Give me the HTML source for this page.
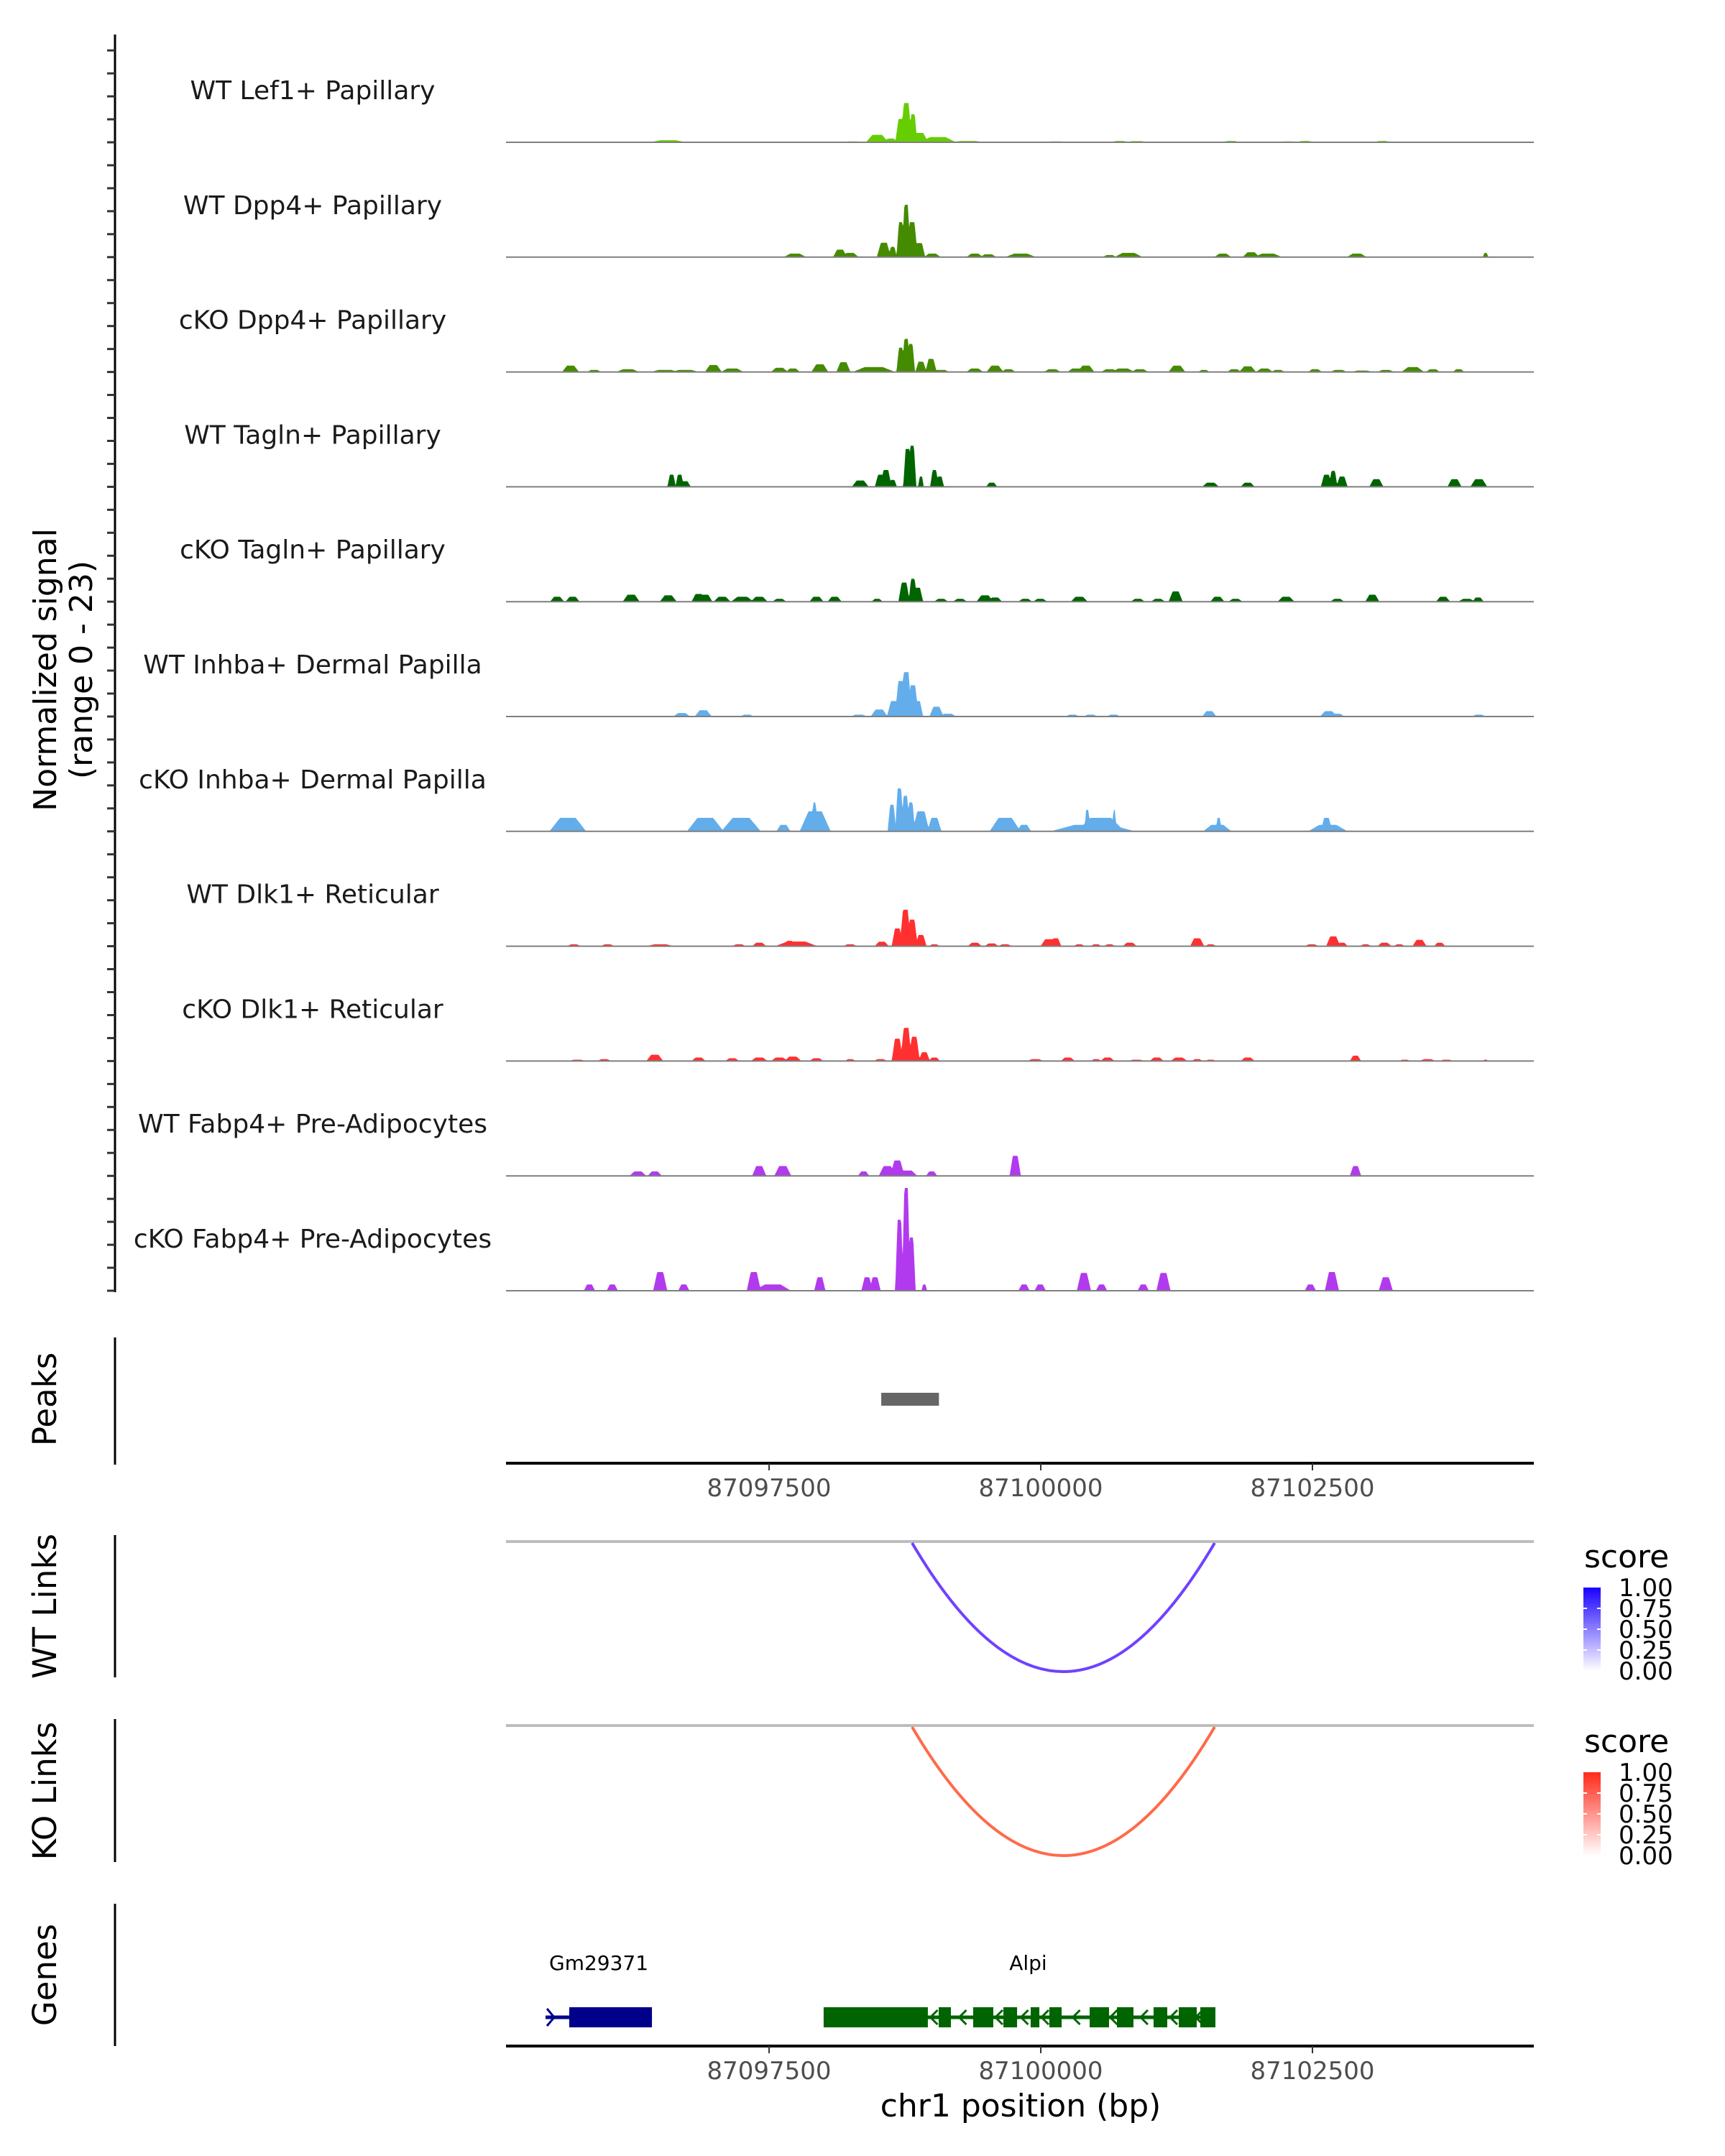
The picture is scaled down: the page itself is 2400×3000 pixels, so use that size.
<!DOCTYPE html>
<html><head><meta charset="utf-8"><style>
html,body{margin:0;padding:0;background:#fff}
svg{display:block;font-family:"DejaVu Sans","Liberation Sans",sans-serif}
</style></head><body>
<svg id="chart" width="2400" height="3000" viewBox="0 0 2400 3000" xmlns="http://www.w3.org/2000/svg">
<rect x="0" y="0" width="2400" height="3000" fill="#fff"/>
<g id="tracks"></g>
<g id="yaxis"></g>
<text transform="translate(78,932) rotate(-90)" text-anchor="middle" font-size="44">Normalized signal</text>
<text transform="translate(128,932) rotate(-90)" text-anchor="middle" font-size="44">(range 0 - 23)</text>

<line x1="160" y1="1861" x2="160" y2="2038" stroke="#000" stroke-width="3"/>
<text transform="translate(78,1947) rotate(-90)" text-anchor="middle" font-size="45">Peaks</text>
<g id="peaks"></g>
<g id="xaxis1"></g>

<line x1="160" y1="2136" x2="160" y2="2334" stroke="#000" stroke-width="3"/>
<text transform="translate(78,2235) rotate(-90)" text-anchor="middle" font-size="45">WT Links</text>
<line x1="704" y1="2145" x2="2134" y2="2145" stroke="#bebebe" stroke-width="4"/>
<g id="wtlinks"></g>

<line x1="160" y1="2392" x2="160" y2="2591" stroke="#000" stroke-width="3"/>
<text transform="translate(78,2492) rotate(-90)" text-anchor="middle" font-size="45">KO Links</text>
<line x1="704" y1="2401" x2="2134" y2="2401" stroke="#bebebe" stroke-width="4"/>
<g id="kolinks"></g>

<defs>
<linearGradient id="gBlue" x1="0" y1="1" x2="0" y2="0"><stop offset="0" stop-color="#ffffff"/><stop offset="1" stop-color="#1a00ff"/></linearGradient>
<linearGradient id="gRed" x1="0" y1="1" x2="0" y2="0"><stop offset="0" stop-color="#ffffff"/><stop offset="1" stop-color="#ff2a1a"/></linearGradient>
</defs>
<g>
<text x="2204" y="2181" font-size="44">score</text>
<rect x="2203" y="2209" width="24" height="116" fill="url(#gBlue)"/>
<g font-size="34" fill="#000">
<text x="2252" y="2221">1.00</text><text x="2252" y="2250">0.75</text><text x="2252" y="2279">0.50</text><text x="2252" y="2308">0.25</text><text x="2252" y="2337">0.00</text>
</g>
<g stroke="#fff" stroke-width="2"><line x1="2203" y1="2238" x2="2208" y2="2238"/><line x1="2222" y1="2238" x2="2227" y2="2238"/><line x1="2203" y1="2267" x2="2208" y2="2267"/><line x1="2222" y1="2267" x2="2227" y2="2267"/><line x1="2203" y1="2296" x2="2208" y2="2296"/><line x1="2222" y1="2296" x2="2227" y2="2296"/></g>
</g>
<g>
<text x="2204" y="2438" font-size="44">score</text>
<rect x="2203" y="2466" width="24" height="116" fill="url(#gRed)"/>
<g font-size="34" fill="#000">
<text x="2252" y="2478">1.00</text><text x="2252" y="2507">0.75</text><text x="2252" y="2536">0.50</text><text x="2252" y="2565">0.25</text><text x="2252" y="2594">0.00</text>
</g>
<g stroke="#fff" stroke-width="2"><line x1="2203" y1="2495" x2="2208" y2="2495"/><line x1="2222" y1="2495" x2="2227" y2="2495"/><line x1="2203" y1="2524" x2="2208" y2="2524"/><line x1="2222" y1="2524" x2="2227" y2="2524"/><line x1="2203" y1="2553" x2="2208" y2="2553"/><line x1="2222" y1="2553" x2="2227" y2="2553"/></g>
</g>

<line x1="160" y1="2649" x2="160" y2="2847" stroke="#000" stroke-width="3"/>
<text transform="translate(78,2748) rotate(-90)" text-anchor="middle" font-size="45">Genes</text>
<g id="genes"></g>
<g id="xaxis2"></g>
<text x="1420" y="2945" text-anchor="middle" font-size="44">chr1 position (bp)</text>
</svg>
<script>
// ---- data ----
const ORIGIN = 87094000;
const xDomain = [87095079, 87104537];
const xTicks = [87097500, 87100000, 87102500];
const yMaxSignal = 23;
const trackNames = ["WT Lef1+ Papillary","WT Dpp4+ Papillary","cKO Dpp4+ Papillary","WT Tagln+ Papillary","cKO Tagln+ Papillary","WT Inhba+ Dermal Papilla","cKO Inhba+ Dermal Papilla","WT Dlk1+ Reticular","cKO Dlk1+ Reticular","WT Fabp4+ Pre-Adipocytes","cKO Fabp4+ Pre-Adipocytes"];
const trackColors = ["#66CD00","#458B00","#458B00","#006400","#006400","#63ADEB","#63ADEB","#FF3030","#FF3030","#B23AEE","#B23AEE"];
// peaks: [position offset from ORIGIN (bp), half-width (bp), signal]
const sigLef1WT = [[1640,60,.15],[1920,60,.15],[2570,130,.45],[3005,80,.15],[3533,80,.15],[3966,60,.15],[4275,60,.2],[4495,80,1.6],[4620,50,.8],[4713,40,5],[4762,40,8.4],[4824,30,6],[4886,60,2],[5053,130,1.1],[5330,120,.3],[6137,80,.2],[6324,80,.15],[6727,60,.3],[6883,80,.25],[7751,60,.3],[8277,60,.2],[8433,60,.3],[9145,60,.3],[9485,50,.15]];
const sigDpp4WT = [[3738,80,.75],[4153,50,1.6],[4246,60,.9],[4556,50,3.1],[4637,30,2.2],[4711,30,7.5],[4761,30,11.2],[4816,40,7.5],[4885,40,3],[5002,60,.75],[5393,60,.75],[5517,60,.6],[5815,110,.75],[6633,50,.45],[6807,100,.9],[7675,60,.75],[7935,60,1.05],[8090,100,.75],[8908,70,.75],[10093,20,.9]];
const sigDpp4KO = [[1673,60,1.35],[1890,50,.45],[2200,80,.6],[2541,100,.45],[2727,100,.45],[2987,60,1.5],[3161,80,.75],[3595,60,.9],[3719,50,.75],[3967,60,1.65],[4184,50,2.1],[4463,150,1.05],[4711,30,5.2],[4761,30,7.1],[4804,30,6],[4897,40,2.2],[4990,40,2.8],[5083,60,.45],[5393,60,.75],[5579,60,1.35],[5703,50,.6],[6106,60,.6],[6323,60,.75],[6416,60,1.35],[6633,60,.6],[6757,80,.75],[6912,60,.6],[7253,60,1.35],[7501,40,.45],[7780,50,.6],[7904,60,1.2],[8059,60,.75],[8183,50,.45],[8524,50,.6],[8741,60,.45],[8958,80,.3],[9175,60,.45],[9423,80,1.05],[9609,50,.6],[9845,40,.6]];
const sigTaglnWT = [[2603,30,2.6],[2677,30,2.6],[2727,40,1.2],[4339,60,1.35],[4525,40,2.6],[4575,40,3.6],[4637,30,1.5],[4773,30,8.1],[4816,30,8.8],[4897,20,2.2],[5021,30,3.6],[5071,30,2.2],[5548,40,.9],[7563,60,.9],[7904,50,.9],[8629,40,2.6],[8691,30,3.4],[8772,40,2.2],[9088,50,1.65],[9807,50,1.65],[10031,60,1.65]];
const sigTaglnKO = [[1549,50,1.05],[1692,50,1.05],[2231,60,1.5],[2572,60,1.35],[2851,50,1.65],[2913,50,1.5],[3068,60,1.05],[3254,80,1.05],[3409,60,1.05],[3595,50,.6],[3936,50,1.05],[4103,50,1.05],[4494,40,.6],[4742,40,4.1],[4823,30,4.9],[4866,40,3],[5083,50,.6],[5257,50,.6],[5486,60,1.35],[5579,50,.9],[5858,50,.6],[5995,50,.6],[6354,60,1.05],[6893,50,.6],[7079,50,.6],[7241,50,2.2],[7625,50,1.05],[7792,50,.6],[8257,60,1.05],[8729,50,.6],[9051,50,1.5],[9702,50,1.05],[9919,60,.6],[10024,40,.9]];
const sigInhbaWT = [[2696,60,.75],[2894,60,1.35],[3297,50,.4],[4327,60,.4],[4513,60,1.5],[4649,50,3.3],[4711,40,7.6],[4761,40,9.5],[4823,40,6.7],[4866,40,3.3],[5040,50,2.1],[5145,60,.6],[6292,50,.4],[6459,50,.4],[6670,50,.4],[7551,50,1.15],[8648,60,1.15],[8729,50,.6],[10031,50,.4]];
const sigInhbaKO = [[1648,130,2.9],[2913,130,2.9],[3242,140,2.9],[3632,50,1.4],[3924,110,4.3],[3917,20,6.2],[4630,30,5.7],[4699,30,9.2],[4754,30,7.6],[4804,30,6.2],[4897,60,4.3],[5021,50,2.9],[5672,110,2.9],[5846,50,1.4],[6478,300,1.4],[6552,170,2.9],[6428,20,4.6],[6676,15,4.6],[7625,100,1.4],[7637,20,2.9],[8642,140,1.4],[8629,40,2.9]];
const sigDlk1WT = [[1704,50,.4],[2014,50,.4],[2498,100,.4],[3223,50,.4],[3409,50,.75],[3750,150,1.0],[3688,40,1.15],[4246,50,.4],[4537,50,.95],[4680,40,3.8],[4754,40,7.8],[4816,40,5.7],[4897,40,2.4],[5021,40,.4],[5393,50,.75],[5548,50,.6],[5672,50,.4],[6075,60,1.5],[6137,40,1.7],[6354,40,.4],[6509,40,.4],[6633,40,.4],[6819,50,.75],[7439,50,1.7],[7563,40,.4],[8493,50,.4],[8691,50,2.1],[8772,40,.75],[8989,40,.4],[9163,50,.75],[9299,40,.4],[9485,50,1.35],[9671,40,.75]];
const sigDlk1KO = [[1735,60,.3],[1983,50,.4],[2448,60,1.35],[2851,50,.75],[3161,50,.6],[3409,60,.75],[3595,60,.75],[3719,60,.95],[3936,50,.6],[4246,40,.4],[4525,50,.4],[4680,40,4.8],[4761,40,7.1],[4835,40,5.2],[4928,40,1.9],[5021,40,.75],[5951,60,.4],[6249,50,.75],[6509,40,.4],[6614,50,.75],[6881,60,.3],[7067,50,.75],[7272,60,.75],[7439,40,.4],[7563,40,.3],[7904,50,.75],[8896,40,1.15],[9349,40,.3],[9559,60,.4],[9733,50,.3],[10093,20,.3]];
const sigFabp4WT = [[2293,60,.95],[2448,50,.95],[3409,50,2.1],[3626,60,2.1],[4370,40,.95],[4587,60,2.1],[4680,50,3.3],[4773,70,1.15],[4996,40,.95],[5765,40,4.3],[8896,40,2.1]];
const sigFabp4KO = [[1847,40,1.35],[2057,40,1.35],[2498,50,4.0],[2715,40,1.35],[3359,50,4.0],[3533,130,1.35],[3967,40,2.9],[4401,40,2.9],[4475,40,2.9],[4699,30,15.2],[4761,30,22],[4810,30,11.4],[4928,20,1.35],[5846,40,1.35],[5995,40,1.35],[6397,50,3.8],[6559,40,1.35],[6943,40,1.35],[7129,50,3.8],[8481,40,1.35],[8679,50,4.0],[9175,50,2.9]];
const trackSignals = [sigLef1WT,sigDpp4WT,sigDpp4KO,sigTaglnWT,sigTaglnKO,sigInhbaWT,sigInhbaKO,sigDlk1WT,sigDlk1KO,sigFabp4WT,sigFabp4KO];
const peakRegions = [[4532,5063]];
const wtLinks = [[4816,7600,0.72]];
const koLinks = [[4816,7600,0.72]];
const geneNames = ["Gm29371","Alpi"];
const geneSpans = [[1443,2422],[4002,7607]];
const geneColors = ["#00008B","#006400"];
const gm29371Exons = [[1661,2422]];
const alpiExons = [[4002,4961],[5061,5173],[5378,5563],[5656,5782],[5907,5987],[6079,6192],[6450,6628],[6701,6853],[7038,7164],[7270,7435],[7468,7607]];
const geneExons = [gm29371Exons, alpiExons];

// ---- layout ----
const NS = "http://www.w3.org/2000/svg";
const X0 = 704, X1 = 2134;
function xs(bp){ return X0 + (bp - xDomain[0]) / (xDomain[1] - xDomain[0]) * (X1 - X0); }
function xo(off){ return xs(ORIGIN + off); }
const TRACK0 = 198, TRACK_STEP = 159.8, TRACK_H = 149.5;
function ys(v, i){ return TRACK0 + i*TRACK_STEP - v / yMaxSignal * TRACK_H; }
function mk(tag, attrs, parent){ const e = document.createElementNS(NS, tag); for (const k in attrs) e.setAttribute(k, attrs[k]); parent.appendChild(e); return e; }
function sig(peaks, off){
  let v = 0;
  for (const p of peaks){
    const d = Math.abs(off - p[0]); const ramp = Math.max(p[1]*0.75, 15);
    const f = Math.min(1, Math.max(0, (p[1] + ramp*0.4 - d) / ramp));
    if (p[2]*f > v) v = p[2]*f;
  }
  return v;
}

const tg = document.getElementById('tracks');
trackSignals.forEach((peaks, i) => {
  const base = TRACK0 + i*TRACK_STEP;
  let d = `M${X0},${base}`;
  for (let x = X0; x <= X1; x += 1){
    const off = xDomain[0] + (x - X0)/(X1 - X0)*(xDomain[1]-xDomain[0]) - ORIGIN;
    d += `L${x},${ys(sig(peaks, off), i).toFixed(1)}`;
  }
  d += `L${X1},${base}Z`;
  const a = mk('path', {d: d, fill: trackColors[i]}, tg);
  
  
  const bl = mk('line', {x1: X0, x2: X1, y1: base, y2: base, stroke: '#7f7f7f', 'stroke-width': 2}, tg);
  
  
  const t = mk('text', {x: 435, y: base - 60, 'text-anchor': 'middle', 'font-size': 36, fill: '#1a1a1a'}, tg);
  t.textContent = trackNames[i];
  
  
});

const ya = document.getElementById('yaxis');
const axl = mk('line', {x1: 160, x2: 160, y1: 48, y2: 1798, stroke: '#000', 'stroke-width': 3}, ya);


for (let k = -4; k <= 50; k++){
  const y = TRACK0 + k*TRACK_STEP/5;
  const tk = mk('line', {x1: 149, x2: 160, y1: y, y2: y, stroke: '#333', 'stroke-width': 3}, ya);
  
  
}

const pg = document.getElementById('peaks');
peakRegions.forEach(r => {
  const rr = mk('rect', {x: xo(r[0]), y: 1938, width: xo(r[1]) - xo(r[0]), height: 18, fill: '#666'}, pg);
  
  
});

function xAxis(gid, y){
  const g = document.getElementById(gid);
  const l = mk('line', {x1: X0, x2: X1, y1: y, y2: y, stroke: '#000', 'stroke-width': 4}, g);
  
  
  xTicks.forEach(t => {
    const tk = mk('line', {x1: xs(t), x2: xs(t), y1: y, y2: y + 10, stroke: '#333', 'stroke-width': 2}, g);
    
    
    const tl = mk('text', {x: xs(t), y: y + 46, 'text-anchor': 'middle', 'font-size': 34, fill: '#4d4d4d'}, g);
    tl.textContent = String(t);
    
    
  });
}
xAxis('xaxis1', 2036);
xAxis('xaxis2', 2847);

function drawLinks(gid, links, top, bottom, color){
  const g = document.getElementById(gid);
  links.forEach(lk => {
    const a = xo(lk[0]), b = xo(lk[1]);
    const cy = 2*bottom - top;
    const p = mk('path', {d: `M${a},${top} Q${(a+b)/2},${cy} ${b},${top}`, fill: 'none', stroke: color, 'stroke-width': 4}, g);
    
    
  });
}
drawLinks('wtlinks', wtLinks, 2147, 2326, '#6F42FF');
drawLinks('kolinks', koLinks, 2403, 2582, '#FF6A4A');

const gg = document.getElementById('genes');
const GY = 2807;
geneNames.forEach((name, i) => {
  const s = geneSpans[i];
  const ln = mk('line', {x1: xo(s[0]), x2: xo(s[1]), y1: GY, y2: GY, stroke: geneColors[i], 'stroke-width': 5}, gg);
  
  
  geneExons[i].forEach(e => {
    const r = mk('rect', {x: xo(e[0]), y: GY - 14, width: xo(e[1]) - xo(e[0]), height: 28, fill: geneColors[i]}, gg);
    
    
  });
  const ex = geneExons[i];
  for (let j = 0; j < ex.length - 1; j++){
    const mx = (xo(ex[j][1]) + xo(ex[j+1][0]))/2;
    const ch = mk('path', {d: `M${mx+6},${GY-10} L${mx-4},${GY} L${mx+6},${GY+10}`, fill: 'none', stroke: geneColors[i], 'stroke-width': 3}, gg);
    
    
  }
  if (i === 0){
    const mx = xo(s[0]) + 8;
    const ch = mk('path', {d: `M${mx-6},${GY-12} L${mx+4},${GY} L${mx-6},${GY+12}`, fill: 'none', stroke: geneColors[i], 'stroke-width': 3}, gg);
    
    
  }
  const t = mk('text', {x: (xo(s[0]) + xo(s[1]))/2 + (i===0 ? 0 : 12), y: 2741, 'text-anchor': 'middle', 'font-size': 28, fill: '#000'}, gg);
  t.textContent = name;
  
  
});
</script>
</body></html>
